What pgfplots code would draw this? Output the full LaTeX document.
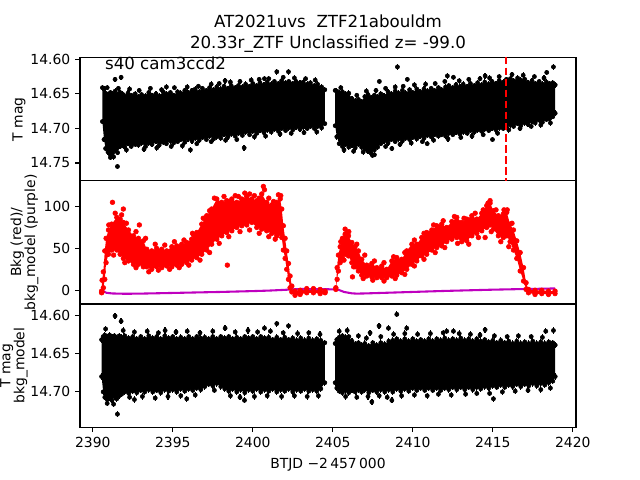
\documentclass[border=0pt]{standalone}
\usepackage{fontspec}
\setmainfont{DejaVu Sans}
\usepackage{pgfplots}
\usepackage{pgfplotstable}
\pgfplotsset{compat=1.18}
\usepgfplotslibrary{fillbetween}

\definecolor{mplpurple}{rgb}{0.75,0,0.75}

% T mag, first orbit: time, upper and lower edge of the dense band
\pgfplotstableread{
x up lo
2390.60 14.641 14.690
2390.70 14.643 14.716
2390.80 14.649 14.729
2390.95 14.651 14.734
2391.10 14.648 14.738
2391.25 14.650 14.735
2391.40 14.646 14.731
2391.55 14.651 14.735
2391.70 14.648 14.726
2391.85 14.650 14.724
2392.00 14.653 14.727
2392.20 14.649 14.722
2392.40 14.652 14.726
2392.65 14.650 14.723
2392.85 14.654 14.724
2393.05 14.651 14.721
2393.30 14.653 14.726
2393.50 14.648 14.721
2393.70 14.652 14.723
2393.95 14.650 14.719
2394.15 14.653 14.724
2394.40 14.647 14.720
2394.60 14.650 14.722
2394.85 14.648 14.718
2395.05 14.652 14.721
2395.30 14.647 14.719
2395.50 14.649 14.716
2395.75 14.645 14.720
2395.95 14.648 14.715
2396.20 14.645 14.718
2396.40 14.643 14.714
2396.65 14.647 14.717
2396.85 14.642 14.713
2397.10 14.645 14.716
2397.30 14.641 14.711
2397.55 14.644 14.715
2397.75 14.640 14.712
2398.00 14.643 14.714
2398.20 14.639 14.709
2398.45 14.642 14.712
2398.65 14.638 14.708
2398.90 14.641 14.711
2399.10 14.638 14.707
2399.35 14.640 14.710
2399.55 14.636 14.705
2399.80 14.639 14.709
2400.00 14.635 14.704
2400.25 14.638 14.707
2400.45 14.634 14.703
2400.70 14.637 14.706
2400.90 14.633 14.702
2401.15 14.636 14.705
2401.35 14.632 14.701
2401.60 14.635 14.704
2401.80 14.631 14.700
2402.05 14.634 14.703
2402.25 14.632 14.699
2402.50 14.635 14.702
2402.70 14.632 14.698
2402.95 14.634 14.701
2403.15 14.633 14.698
2403.40 14.636 14.700
2403.60 14.634 14.697
2403.85 14.638 14.700
2404.05 14.636 14.697
2404.30 14.640 14.699
2404.50 14.644 14.693
}\topA

% T mag, second orbit
\pgfplotstableread{
x up lo
2405.15 14.645 14.696
2405.25 14.646 14.712
2405.40 14.649 14.722
2405.60 14.647 14.726
2405.80 14.650 14.723
2406.00 14.649 14.727
2406.20 14.657 14.724
2406.40 14.660 14.728
2406.60 14.658 14.723
2406.80 14.661 14.727
2407.00 14.654 14.730
2407.20 14.651 14.733
2407.40 14.655 14.736
2407.60 14.652 14.731
2407.80 14.654 14.727
2408.00 14.650 14.722
2408.20 14.653 14.718
2408.45 14.647 14.721
2408.65 14.650 14.716
2408.90 14.646 14.719
2409.10 14.649 14.715
2409.35 14.645 14.718
2409.55 14.649 14.714
2409.80 14.644 14.716
2410.00 14.648 14.713
2410.25 14.643 14.715
2410.45 14.647 14.711
2410.70 14.643 14.714
2410.90 14.646 14.710
2411.15 14.642 14.712
2411.35 14.645 14.709
2411.60 14.641 14.711
2411.80 14.644 14.709
2412.05 14.640 14.711
2412.25 14.638 14.707
2412.50 14.641 14.709
2412.70 14.637 14.706
2412.95 14.640 14.708
2413.15 14.636 14.705
2413.40 14.639 14.707
2413.60 14.635 14.703
2413.85 14.638 14.705
2414.05 14.634 14.702
2414.30 14.637 14.704
2414.50 14.633 14.701
2414.75 14.636 14.703
2414.95 14.632 14.700
2415.20 14.635 14.702
2415.40 14.631 14.699
2415.65 14.633 14.700
2415.85 14.629 14.697
2416.10 14.628 14.695
2416.30 14.631 14.697
2416.55 14.627 14.693
2416.75 14.630 14.696
2417.00 14.629 14.692
2417.20 14.634 14.694
2417.45 14.631 14.690
2417.65 14.635 14.692
2417.90 14.632 14.688
2418.10 14.636 14.691
2418.35 14.633 14.687
2418.55 14.635 14.686
2418.75 14.634 14.683
2418.90 14.637 14.678
}\topB

% background, first orbit: time, lower and upper edge
\pgfplotstableread{
x lo up
2390.55 -3 -1
2390.58 -2 12
2390.66 3 22
2390.75 13 47
2390.83 33 62
2390.98 43 72
2391.18 48 79
2391.50 48 87
2391.71 43 85
2391.91 38 81
2392.23 35 72
2392.54 31 65
2392.85 31 62
2393.16 28 59
2393.37 28 49
2393.68 25 47
2393.99 28 50
2394.31 27 49
2394.62 29 47
2394.94 28 52
2395.25 30 53
2395.56 31 55
2395.87 33 57
2396.18 36 61
2396.50 39 69
2396.81 43 79
2397.12 48 89
2397.43 55 97
2397.75 61 109
2398.06 65 105
2398.37 69 107
2398.69 71 109
2399.00 75 105
2399.31 77 109
2399.62 78 112
2399.94 81 109
2400.25 75 107
2400.56 73 115
2400.87 71 105
2401.19 68 102
2401.50 65 105
2401.71 68 109
2401.81 63 97
2401.91 48 77
2402.02 38 62
2402.12 25 47
2402.23 13 32
2402.33 3 17
2402.44 -2 5
2402.64 -6 -1
2402.96 -5 0
2403.37 -3 2
2403.79 -3 2
2404.21 -4 1
2404.52 -3 -1
}\bkgA

% background, second orbit
\pgfplotstableread{
x lo up
2405.19 1 3
2405.27 13 27
2405.35 23 42
2405.46 33 52
2405.60 38 62
2405.77 43 67
2405.98 41 65
2406.19 33 57
2406.39 28 52
2406.60 23 47
2406.81 18 37
2407.12 17 30
2407.44 16 32
2407.75 15 27
2408.06 15 29
2408.37 15 25
2408.69 17 35
2409.00 18 39
2409.31 21 37
2409.62 25 47
2409.94 31 55
2410.25 35 55
2410.56 41 63
2410.87 43 69
2411.19 48 72
2411.50 51 77
2411.81 53 79
2412.12 58 75
2412.44 61 82
2412.75 63 87
2413.06 58 81
2413.37 59 85
2413.69 65 89
2414.00 68 85
2414.31 71 92
2414.62 75 101
2414.83 78 104
2415.04 73 95
2415.35 65 89
2415.66 63 91
2415.87 65 93
2416.08 58 79
2416.29 48 72
2416.50 38 59
2416.71 23 45
2416.92 11 27
2417.08 1 9
2417.23 -3 1
2417.64 -5 0
2418.06 -4 0
2418.48 -5 -1
2418.89 -4 -1
}\bkgB

% T mag - bkg_model, first orbit
\pgfplotstableread{
x up lo
2390.55 14.632 14.680
2390.65 14.628 14.700
2390.75 14.626 14.707
2390.90 14.628 14.710
2391.05 14.626 14.708
2391.20 14.629 14.711
2391.35 14.627 14.706
2391.50 14.630 14.709
2391.65 14.627 14.705
2391.80 14.629 14.703
2392.00 14.627 14.700
2392.25 14.630 14.702
2392.50 14.628 14.699
2392.75 14.631 14.701
2393.00 14.628 14.698
2393.25 14.631 14.700
2393.50 14.627 14.697
2393.75 14.630 14.700
2394.00 14.628 14.698
2394.25 14.631 14.701
2394.50 14.627 14.697
2394.75 14.630 14.699
2395.00 14.628 14.697
2395.25 14.631 14.700
2395.50 14.629 14.696
2395.75 14.631 14.699
2396.00 14.628 14.696
2396.25 14.631 14.698
2396.50 14.628 14.695
2396.75 14.630 14.697
2397.00 14.629 14.693
2397.25 14.631 14.690
2397.50 14.628 14.692
2397.75 14.631 14.689
2398.00 14.628 14.693
2398.25 14.630 14.696
2398.50 14.628 14.699
2398.75 14.631 14.696
2399.00 14.629 14.700
2399.25 14.631 14.697
2399.50 14.628 14.701
2399.75 14.630 14.697
2400.00 14.628 14.699
2400.25 14.631 14.696
2400.50 14.628 14.700
2400.75 14.630 14.697
2401.00 14.629 14.699
2401.25 14.632 14.696
2401.50 14.629 14.700
2401.75 14.632 14.697
2402.00 14.629 14.699
2402.25 14.632 14.696
2402.50 14.630 14.700
2402.75 14.633 14.697
2403.00 14.630 14.699
2403.25 14.633 14.696
2403.50 14.630 14.699
2403.75 14.633 14.697
2404.00 14.631 14.699
2404.25 14.633 14.696
2404.50 14.636 14.688
}\subA

% T mag - bkg_model, second orbit
\pgfplotstableread{
x up lo
2405.15 14.637 14.688
2405.25 14.632 14.695
2405.40 14.629 14.699
2405.60 14.627 14.701
2405.80 14.629 14.698
2406.00 14.628 14.701
2406.20 14.634 14.698
2406.40 14.638 14.700
2406.60 14.636 14.697
2406.80 14.639 14.700
2407.00 14.637 14.697
2407.25 14.640 14.701
2407.50 14.636 14.698
2407.75 14.639 14.700
2408.00 14.636 14.697
2408.25 14.638 14.700
2408.50 14.634 14.697
2408.75 14.633 14.700
2409.00 14.631 14.696
2409.25 14.634 14.699
2409.50 14.631 14.696
2409.75 14.634 14.699
2410.00 14.631 14.695
2410.25 14.634 14.698
2410.50 14.632 14.695
2410.75 14.634 14.698
2411.00 14.631 14.695
2411.25 14.634 14.698
2411.50 14.631 14.695
2411.75 14.633 14.698
2412.00 14.630 14.695
2412.25 14.633 14.697
2412.50 14.631 14.694
2412.75 14.633 14.697
2413.00 14.630 14.694
2413.25 14.633 14.697
2413.50 14.631 14.694
2413.75 14.634 14.697
2414.00 14.631 14.694
2414.25 14.634 14.696
2414.50 14.632 14.693
2414.75 14.635 14.695
2415.00 14.633 14.692
2415.25 14.636 14.694
2415.50 14.633 14.691
2415.75 14.636 14.694
2416.00 14.634 14.691
2416.25 14.637 14.693
2416.50 14.634 14.690
2416.75 14.637 14.693
2417.00 14.635 14.690
2417.25 14.637 14.692
2417.50 14.634 14.689
2417.75 14.637 14.692
2418.00 14.635 14.689
2418.25 14.637 14.691
2418.50 14.635 14.688
2418.75 14.636 14.686
2418.90 14.639 14.680
}\subB

\pgfplotsset{
  panel/.style={
    scale only axis, width=357.12pt, height=88.704pt,
    anchor=south west,
    xmin=2389.2, xmax=2420.2,
    axis line style={line width=0.8pt},
    tick align=outside, major tick length=3.5pt,
    every tick/.style={black, line width=0.8pt},
    ytick pos=left, xtick pos=bottom,
    tick label style={font=\fontsize{10}{12}\selectfont},
    ylabel style={anchor=center, font=\fontsize{10}{10}\selectfont, align=center},
  },
  blk/.style={only marks, mark=*, mark size=1.5pt, black,
    error bars/.cd, y dir=both, y fixed=0.004, error mark=none,
    error bar style={line width=1pt}},
  rdot/.style={only marks, mark=*, mark size=1.7pt, red},
}

\begin{document}
\begin{tikzpicture}

% top: T mag
\begin{axis}[panel, at={(0pt,177.408pt)}, clip mode=individual,
  y dir=reverse, ymin=14.5975, ymax=14.7757,
  ytick={14.60,14.65,14.70,14.75}, xtick=\empty,
  yticklabel style={/pgf/number format/.cd, fixed, fixed zerofill, precision=2, assume math mode=true},
  ylabel={T mag},
  ylabel style={at={(axis description cs:-0.123,0.5)}},
]
\addplot[draw=none, name path=ta] table[x=x, y=up]{\topA};
\addplot[draw=none, name path=tb] table[x=x, y=lo]{\topA};
\addplot[black] fill between[of=ta and tb];
\addplot[draw=none, name path=tc] table[x=x, y=up]{\topB};
\addplot[draw=none, name path=td] table[x=x, y=lo]{\topB};
\addplot[black] fill between[of=tc and td];
\addplot[blk] table[x=x, y=up]{\topA};
\addplot[blk] table[x=x, y=lo]{\topA};
\addplot[blk] table[x=x, y=up]{\topB};
\addplot[blk] table[x=x, y=lo]{\topB};
% points standing out of the band
\addplot[blk] coordinates {
  (2390.9,14.641) (2391.6,14.642) (2392.3,14.643) (2392.9,14.645) (2393.6,14.642)
  (2394.3,14.644) (2395.1,14.641) (2395.9,14.640) (2396.6,14.639) (2397.4,14.636)
  (2397.9,14.635) (2398.6,14.633) (2399.2,14.632) (2399.9,14.630) (2400.4,14.629)
  (2401.0,14.628) (2401.9,14.626) (2402.6,14.627) (2403.3,14.628) (2403.9,14.630)
  (2391.3,14.741) (2392.1,14.731) (2393.2,14.730) (2394.0,14.728) (2394.9,14.726)
  (2395.6,14.725) (2396.5,14.722) (2397.4,14.719) (2398.3,14.717) (2399.0,14.716)
  (2400.1,14.712) (2400.8,14.711) (2401.7,14.708) (2402.4,14.707) (2403.2,14.706)
  (2404.0,14.705)
  (2405.5,14.641) (2406.5,14.652) (2407.1,14.646) (2407.7,14.645) (2408.3,14.642)
  (2408.9,14.640) (2409.4,14.639) (2410.1,14.637) (2410.8,14.636) (2411.4,14.635)
  (2412.0,14.632) (2412.9,14.631) (2413.5,14.629) (2414.2,14.628) (2414.8,14.627)
  (2415.4,14.625) (2416.2,14.622) (2416.9,14.623) (2417.6,14.625) (2418.2,14.627)
  (2405.7,14.731) (2406.3,14.733) (2406.9,14.734) (2407.6,14.738) (2408.3,14.726)
  (2409.2,14.723) (2409.9,14.721) (2410.6,14.719) (2411.3,14.717) (2412.2,14.715)
  (2413.0,14.713) (2413.7,14.711) (2414.4,14.709) (2415.3,14.707) (2416.0,14.702)
  (2416.7,14.700) (2417.4,14.697) (2418.0,14.695) (2418.6,14.692)
  (2391.39,14.629) (2391.77,14.626) (2391.54,14.755) (2391.10,14.742)
  (2398.27,14.631) (2400.73,14.628) (2401.50,14.618) (2402.23,14.618)
  (2399.46,14.728) (2394.60,14.640) (2396.10,14.731)
  (2407.91,14.632) (2409.04,14.611) (2409.66,14.629) (2412.16,14.624)
  (2412.54,14.626) (2414.52,14.624) (2418.37,14.619) (2418.79,14.611)
  (2407.48,14.739) (2408.69,14.729) (2414.98,14.716) (2410.90,14.722)
};
\addplot[red, line width=1.5pt, dash pattern=on 5.55pt off 2.4pt] coordinates {(2415.8,14.58) (2415.8,14.80)};
\node[anchor=base west, inner sep=0pt, font=\fontsize{12}{14.4}\selectfont] at (axis description cs:0.05,0.9) {s40 cam3ccd2};
\node[anchor=base, inner sep=0pt, yshift=21.5pt, font=\fontsize{12}{14.4}\selectfont] at (axis description cs:0.5,1) {AT2021uvs~~ZTF21abouldm};
\node[anchor=base, inner sep=0pt, yshift=6.7pt, font=\fontsize{12}{14.4}\selectfont] at (axis description cs:0.5,1) {20.33r\_ZTF Unclassified z= -99.0};
\end{axis}

% middle: background
\begin{axis}[panel, at={(0pt,88.704pt)},
  ymin=-16.4, ymax=130.7,
  ytick={0,50,100}, xtick=\empty,
  yticklabel style={/pgf/number format/assume math mode=true},
  ylabel={Bkg (red)/\\bkg\_model (purple)},
  ylabel style={at={(axis description cs:-0.112,0.5)}},
]
\addplot[draw=none, name path=ba] table[x=x, y=lo]{\bkgA};
\addplot[draw=none, name path=bb] table[x=x, y=up]{\bkgA};
\addplot[red] fill between[of=ba and bb];
\addplot[draw=none, name path=bc] table[x=x, y=lo]{\bkgB};
\addplot[draw=none, name path=bd] table[x=x, y=up]{\bkgB};
\addplot[red] fill between[of=bc and bd];
\addplot[rdot] table[x=x, y=lo]{\bkgA};
\addplot[rdot] table[x=x, y=up]{\bkgA};
\addplot[rdot] table[x=x, y=lo]{\bkgB};
\addplot[rdot] table[x=x, y=up]{\bkgB};
\addplot[rdot] coordinates {
  (2391.0,78) (2391.4,92) (2391.8,90) (2392.1,80) (2392.7,70) (2393.3,62)
  (2393.9,55) (2394.5,54) (2395.1,58) (2395.7,60) (2396.3,66) (2396.9,86)
  (2397.3,95) (2397.6,110) (2398.2,112) (2398.5,106) (2399.1,112) (2399.5,116)
  (2400.1,113) (2400.4,110) (2401.0,110) (2401.3,106) (2401.75,113)
  (2391.3,42) (2392.0,33) (2392.7,27) (2393.5,22) (2394.1,24) (2394.8,25)
  (2395.4,27) (2396.0,30) (2396.7,36) (2397.3,45) (2397.9,56) (2398.5,64)
  (2399.2,70) (2399.8,72) (2400.4,68) (2401.0,64) (2401.4,61)
  (2405.5,58) (2406.0,70) (2406.5,55) (2407.0,42) (2407.6,35) (2408.2,33)
  (2408.8,40) (2409.5,45) (2410.1,60) (2410.7,68) (2411.3,78) (2411.9,83)
  (2412.6,88) (2413.2,86) (2413.9,92) (2414.4,96) (2415.2,96) (2415.7,96)
  (2416.2,80)
  (2405.7,36) (2406.3,28) (2406.9,14) (2407.5,12) (2408.2,11) (2408.9,14)
  (2409.5,19) (2410.1,29) (2410.7,37) (2411.4,45) (2412.0,51) (2412.8,56)
  (2413.5,55) (2414.1,63) (2414.9,70) (2415.5,58) (2416.0,52)
  (2391.23,105) (2391.91,97) (2392.91,78) (2396.23,68) (2398.41,30)
  (2400.66,124) (2400.73,120) (2401.60,114) (2399.80,115) (2398.90,113)
  (2405.77,73) (2405.90,69) (2406.23,16) (2414.52,63) (2414.83,107)
  (2414.70,104) (2415.90,96)
};
\addplot[mplpurple, line width=1.5pt] coordinates {
  (2390.55,1.0) (2390.70,-1.5) (2390.85,-3.0) (2391.20,-3.8) (2392.00,-4.2)
  (2393.00,-4.0) (2394.00,-3.6) (2395.00,-3.2) (2396.00,-2.8) (2397.00,-2.4)
  (2398.00,-2.0) (2399.00,-1.5) (2400.00,-1.0) (2401.00,-0.4) (2402.00,0.5)
  (2402.60,1.2) (2403.00,1.5) (2404.00,1.4) (2404.50,1.2) (2405.19,1.1)
  (2405.35,0.6) (2405.70,-2.0) (2406.20,-3.7) (2406.50,-4.0) (2407.00,-3.8)
  (2408.00,-3.2) (2409.00,-2.6) (2410.00,-2.0) (2411.00,-1.4) (2412.00,-0.8)
  (2413.00,-0.3) (2414.00,0.2) (2415.00,0.7) (2416.00,1.1) (2417.00,1.5)
  (2418.00,1.8) (2418.89,2.2)
};
\end{axis}

% bottom: T mag - bkg_model
\begin{axis}[panel, at={(0pt,0pt)},
  y dir=reverse, ymin=14.5855, ymax=14.746,
  ytick={14.60,14.65,14.70},
  xtick={2390,2395,...,2420},
  yticklabel style={/pgf/number format/.cd, fixed, fixed zerofill, precision=2, assume math mode=true},
  xticklabel style={/pgf/number format/.cd, 1000 sep={}, assume math mode=true},
  ylabel={T mag\\bkg\_model},
  ylabel style={at={(axis description cs:-0.1331,0.5)}},
  xlabel={BTJD −2\,457\,000},
  xlabel style={font=\fontsize{10}{12}\selectfont, at={(axis description cs:0.5,0)}, anchor=base, yshift=-29.4pt},
]
\addplot[draw=none, name path=sa] table[x=x, y=up]{\subA};
\addplot[draw=none, name path=sb] table[x=x, y=lo]{\subA};
\addplot[black] fill between[of=sa and sb];
\addplot[draw=none, name path=sc] table[x=x, y=up]{\subB};
\addplot[draw=none, name path=sd] table[x=x, y=lo]{\subB};
\addplot[black] fill between[of=sc and sd];
\addplot[blk] table[x=x, y=up]{\subA};
\addplot[blk] table[x=x, y=lo]{\subA};
\addplot[blk] table[x=x, y=up]{\subB};
\addplot[blk] table[x=x, y=lo]{\subB};
\addplot[blk] coordinates {
  (2390.8,14.618) (2391.9,14.620) (2392.6,14.622) (2393.4,14.621) (2394.1,14.623)
  (2395.2,14.622) (2395.9,14.621) (2396.7,14.623) (2397.5,14.621) (2398.9,14.622)
  (2399.7,14.620) (2400.3,14.622) (2401.1,14.621) (2401.9,14.623) (2402.8,14.624)
  (2403.5,14.623) (2404.2,14.625)
  (2390.9,14.715) (2391.3,14.716) (2392.3,14.707) (2393.1,14.706) (2393.9,14.708)
  (2394.7,14.706) (2395.5,14.705) (2396.4,14.704) (2397.6,14.698) (2398.6,14.705)
  (2399.2,14.707) (2400.1,14.706) (2400.9,14.705) (2401.8,14.706) (2402.6,14.705)
  (2403.4,14.706) (2404.1,14.705)
  (2405.4,14.621) (2405.9,14.620) (2406.6,14.627) (2407.1,14.630) (2408.0,14.628)
  (2408.8,14.625) (2409.5,14.624) (2410.3,14.625) (2411.1,14.624) (2411.9,14.623)
  (2412.9,14.624) (2413.6,14.625) (2414.2,14.626) (2415.1,14.627) (2415.9,14.628)
  (2416.6,14.627) (2417.4,14.628) (2418.1,14.629)
  (2405.8,14.706) (2406.5,14.707) (2407.2,14.706) (2407.9,14.705) (2408.4,14.707)
  (2409.3,14.705) (2410.1,14.704) (2410.9,14.705) (2411.6,14.703) (2412.4,14.704)
  (2413.3,14.703) (2414.0,14.702) (2414.8,14.702) (2415.6,14.700) (2416.4,14.699)
  (2417.2,14.698) (2418.0,14.697) (2418.6,14.695)
  (2391.39,14.601) (2391.77,14.608) (2391.54,14.729) (2394.52,14.620)
  (2398.27,14.617) (2400.73,14.617) (2401.50,14.611) (2402.23,14.614)
  (2399.48,14.711) (2395.87,14.709) (2392.60,14.710)
  (2407.33,14.623) (2407.89,14.614) (2408.48,14.617) (2409.00,14.599)
  (2409.62,14.617) (2412.12,14.621) (2412.54,14.621) (2414.52,14.619)
  (2418.31,14.621) (2418.79,14.620) (2407.44,14.713) (2408.69,14.711)
  (2415.04,14.709)
};
\end{axis}

\pgfresetboundingbox
\useasboundingbox (-57.6pt,-38.016pt) rectangle (403.2pt,307.584pt);
\end{tikzpicture}
\end{document}
